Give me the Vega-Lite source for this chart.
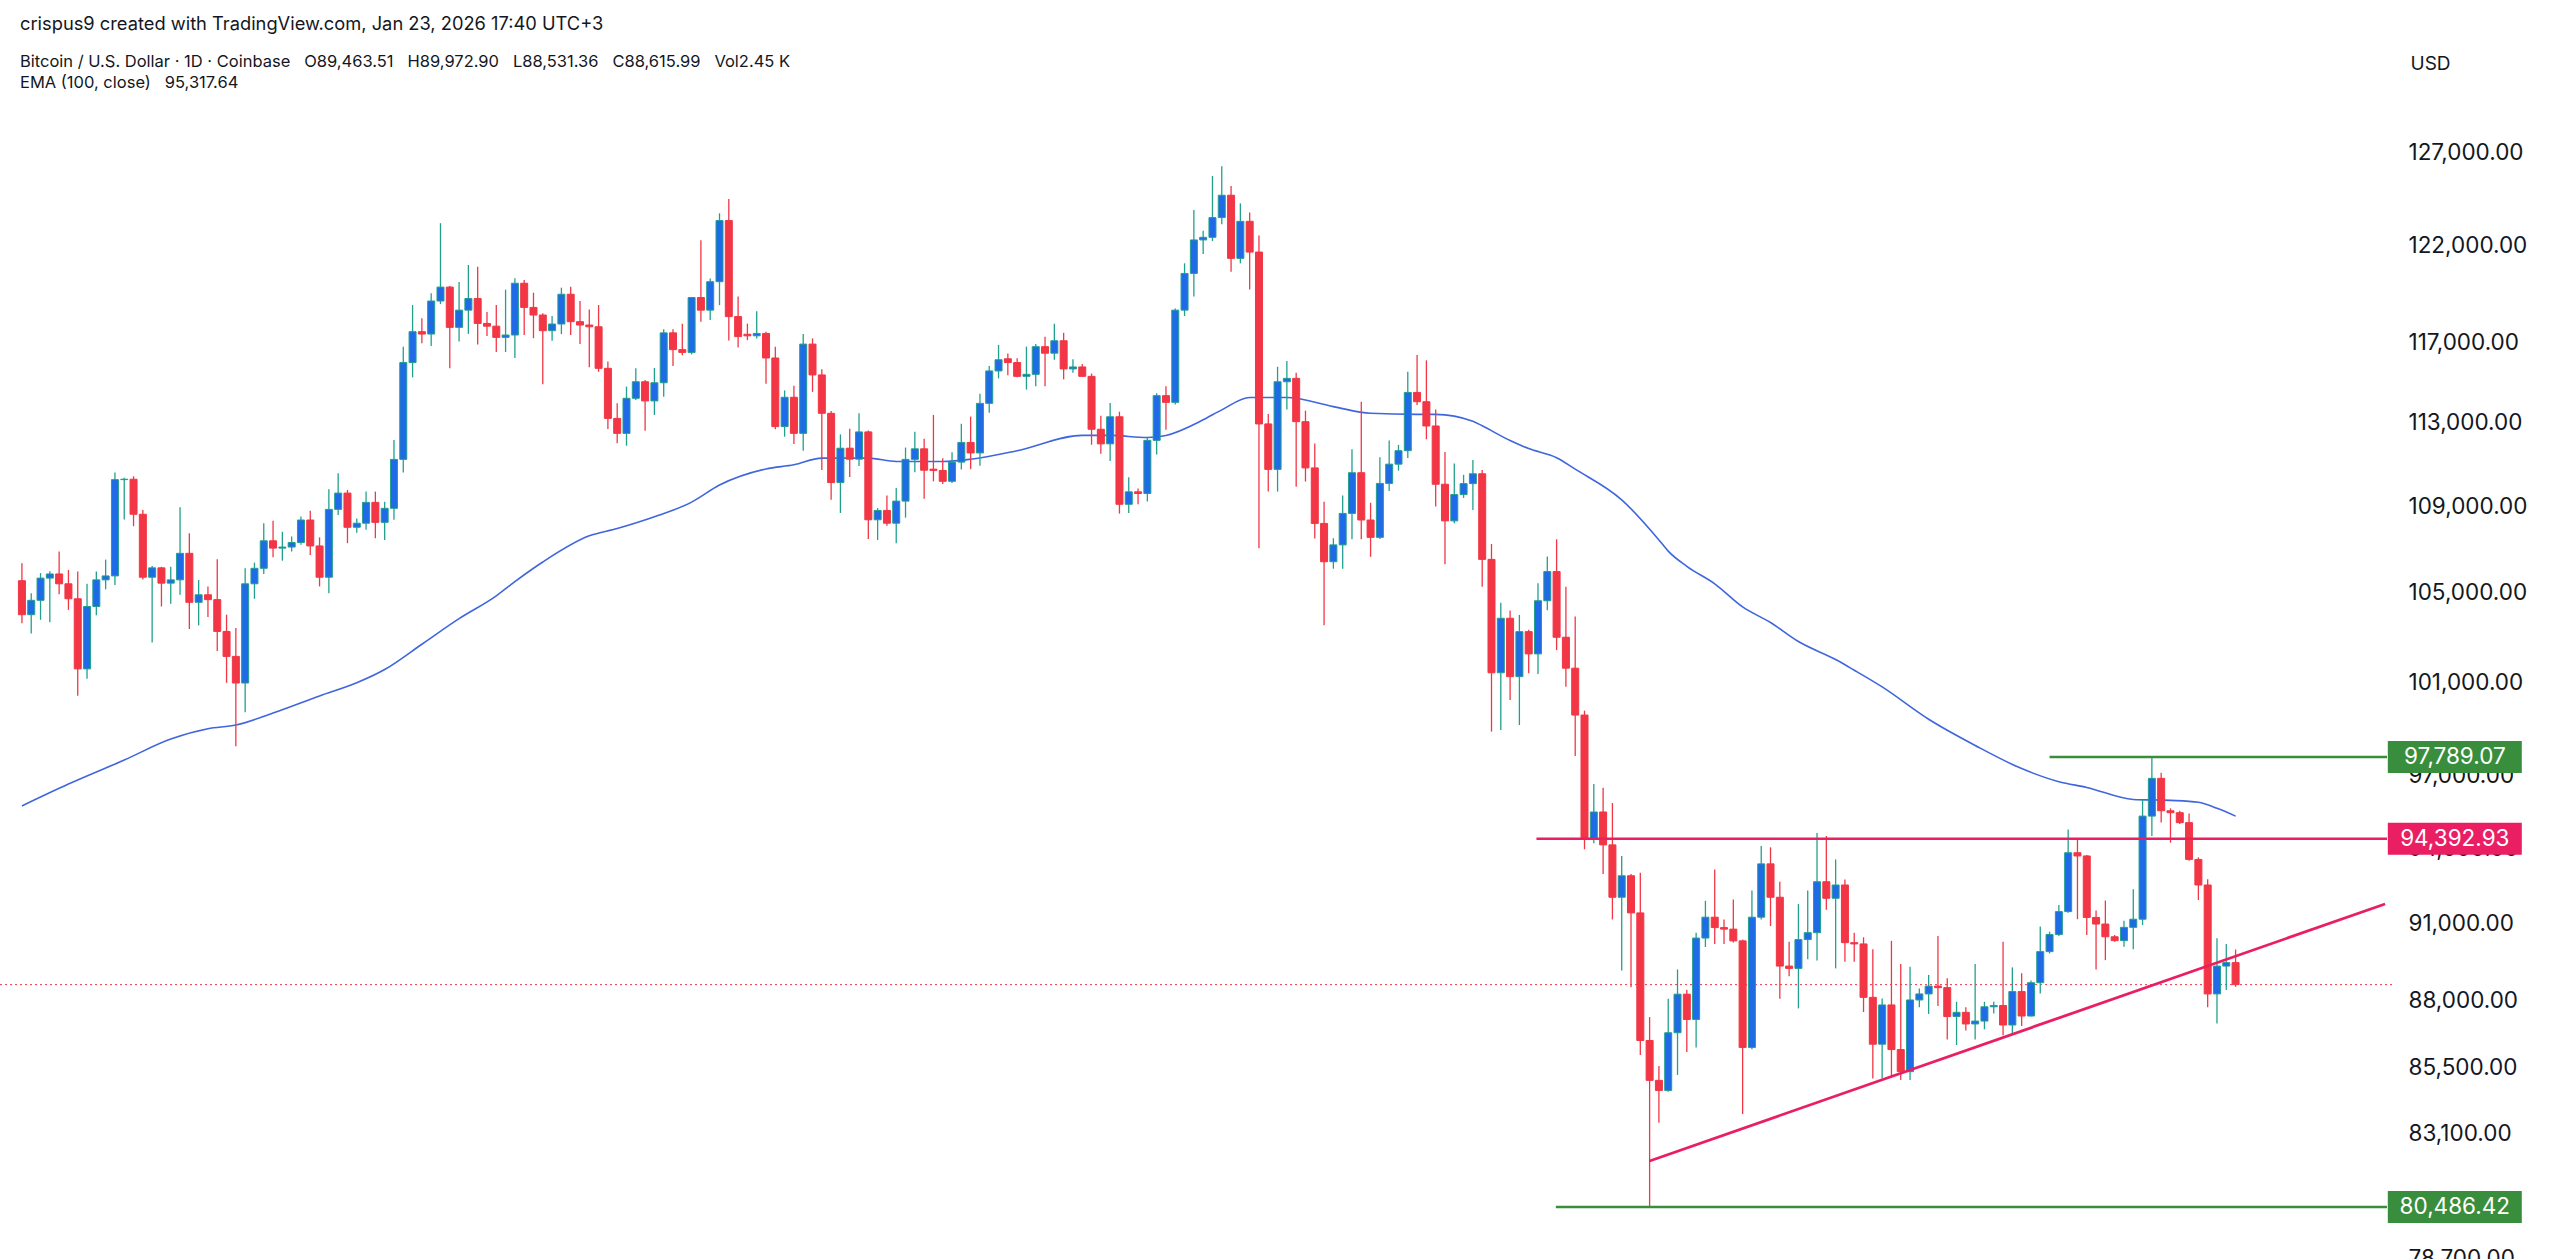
{
  "$schema": "https://vega.github.io/schema/vega-lite/v6.json",
  "width": 2392,
  "height": 1159,
  "autosize": {"type": "none"},
  "padding": {"top": 100, "left": 0, "right": 168, "bottom": 0},
  "background": "white",
  "config": {
    "font": "Inter",
    "view": {"stroke": null},
    "axisY": {
      "domain": false, "ticks": false, "grid": false,
      "labelFontSize": 22.5, "labelColor": "#131722", "labelPadding": 16,
      "labelOverlap": false, "labelBound": false, "labelAlign": "left", "labelBaseline": "middle",
      "titleAngle": 0, "titleX": 18, "titleY": -37, "titleAlign": "left", "titleBaseline": "middle",
      "titleFontSize": 19, "titleFontWeight": "normal", "titleColor": "#131722"
    }
  },
  "title": {
    "text": "crispus9 created with TradingView.com, Jan 23, 2026 17:40 UTC+3",
    "subtitle": ["Bitcoin / U.S. Dollar · 1D · Coinbase\u00a0\u00a0 O89,463.51\u00a0\u00a0 H89,972.90\u00a0\u00a0 L88,531.36\u00a0\u00a0 C88,615.99\u00a0\u00a0 Vol2.45 K", "EMA (100, close)\u00a0\u00a0 95,317.64"],
    "anchor": "start", "frame": "group", "dx": 20, "offset": -38,
    "fontSize": 18.3, "fontWeight": "normal", "color": "#131722",
    "subtitleFontSize": 16.5, "subtitleColor": "#131722", "subtitlePadding": 19, "subtitleLineHeight": 21
  },
  "datasets": {
    "ohlc": [
      {"d":"2025-05-30","o":105540,"h":106340,"l":103620,"c":104000},
      {"d":"2025-05-31","o":104000,"h":104970,"l":103160,"c":104650},
      {"d":"2025-06-01","o":104650,"h":105890,"l":103770,"c":105660},
      {"d":"2025-06-02","o":105660,"h":105970,"l":103660,"c":105850},
      {"d":"2025-06-03","o":105850,"h":106880,"l":104920,"c":105400},
      {"d":"2025-06-04","o":105400,"h":106030,"l":104220,"c":104720},
      {"d":"2025-06-05","o":104720,"h":105960,"l":100420,"c":101590},
      {"d":"2025-06-06","o":101590,"h":105400,"l":101160,"c":104370},
      {"d":"2025-06-07","o":104370,"h":105960,"l":103970,"c":105580},
      {"d":"2025-06-08","o":105580,"h":106510,"l":105150,"c":105760},
      {"d":"2025-06-09","o":105760,"h":110600,"l":105350,"c":110260},
      {"d":"2025-06-10","o":110260,"h":110350,"l":108370,"c":110280},
      {"d":"2025-06-11","o":110280,"h":110420,"l":108060,"c":108620},
      {"d":"2025-06-12","o":108620,"h":108820,"l":105600,"c":105700},
      {"d":"2025-06-13","o":105700,"h":106210,"l":102760,"c":106130},
      {"d":"2025-06-14","o":106130,"h":106180,"l":104370,"c":105430},
      {"d":"2025-06-15","o":105430,"h":106180,"l":104490,"c":105580},
      {"d":"2025-06-16","o":105580,"h":108950,"l":104900,"c":106800},
      {"d":"2025-06-17","o":106800,"h":107730,"l":103360,"c":104560},
      {"d":"2025-06-18","o":104560,"h":105570,"l":103520,"c":104900},
      {"d":"2025-06-19","o":104900,"h":105280,"l":103900,"c":104680},
      {"d":"2025-06-20","o":104680,"h":106530,"l":102380,"c":103250},
      {"d":"2025-06-21","o":103250,"h":104000,"l":100980,"c":102140},
      {"d":"2025-06-22","o":102140,"h":103400,"l":98240,"c":100970},
      {"d":"2025-06-23","o":100970,"h":106110,"l":99700,"c":105400},
      {"d":"2025-06-24","o":105400,"h":106370,"l":104720,"c":106110},
      {"d":"2025-06-25","o":106110,"h":108200,"l":105850,"c":107380},
      {"d":"2025-06-26","o":107380,"h":108310,"l":106620,"c":107040},
      {"d":"2025-06-27","o":107040,"h":107800,"l":106460,"c":107090},
      {"d":"2025-06-28","o":107090,"h":107580,"l":106880,"c":107300},
      {"d":"2025-06-29","o":107300,"h":108510,"l":107200,"c":108350},
      {"d":"2025-06-30","o":108350,"h":108790,"l":106720,"c":107140},
      {"d":"2025-07-01","o":107140,"h":107540,"l":105280,"c":105700},
      {"d":"2025-07-02","o":105700,"h":109800,"l":104970,"c":108850},
      {"d":"2025-07-03","o":108850,"h":110560,"l":108590,"c":109620},
      {"d":"2025-07-04","o":109620,"h":109770,"l":107270,"c":108010},
      {"d":"2025-07-05","o":108010,"h":108420,"l":107760,"c":108200},
      {"d":"2025-07-06","o":108200,"h":109690,"l":107890,"c":109180},
      {"d":"2025-07-07","o":109180,"h":109690,"l":107500,"c":108240},
      {"d":"2025-07-08","o":108240,"h":109210,"l":107420,"c":108900},
      {"d":"2025-07-09","o":108900,"h":112170,"l":108360,"c":111230},
      {"d":"2025-07-10","o":111230,"h":116780,"l":110600,"c":115990},
      {"d":"2025-07-11","o":115990,"h":118910,"l":115250,"c":117550},
      {"d":"2025-07-12","o":117550,"h":118230,"l":116960,"c":117430},
      {"d":"2025-07-13","o":117430,"h":119520,"l":116830,"c":119120},
      {"d":"2025-07-14","o":119120,"h":123200,"l":118960,"c":119840},
      {"d":"2025-07-15","o":119840,"h":119900,"l":115700,"c":117770},
      {"d":"2025-07-16","o":117770,"h":120100,"l":117050,"c":118650},
      {"d":"2025-07-17","o":118650,"h":120990,"l":117440,"c":119250},
      {"d":"2025-07-18","o":119250,"h":120900,"l":116900,"c":117970},
      {"d":"2025-07-19","o":117970,"h":118550,"l":117330,"c":117830},
      {"d":"2025-07-20","o":117830,"h":118910,"l":116520,"c":117260},
      {"d":"2025-07-21","o":117260,"h":119710,"l":116520,"c":117380},
      {"d":"2025-07-22","o":117380,"h":120300,"l":116220,"c":120040},
      {"d":"2025-07-23","o":120040,"h":120210,"l":117380,"c":118790},
      {"d":"2025-07-24","o":118790,"h":119550,"l":117220,"c":118400},
      {"d":"2025-07-25","o":118400,"h":118490,"l":114900,"c":117600},
      {"d":"2025-07-26","o":117600,"h":118350,"l":117090,"c":117940},
      {"d":"2025-07-27","o":117940,"h":119810,"l":117430,"c":119470},
      {"d":"2025-07-28","o":119470,"h":119860,"l":117380,"c":118060},
      {"d":"2025-07-29","o":118060,"h":119120,"l":116930,"c":117890},
      {"d":"2025-07-30","o":117890,"h":118690,"l":115750,"c":117800},
      {"d":"2025-07-31","o":117800,"h":118910,"l":115530,"c":115700},
      {"d":"2025-08-01","o":115700,"h":116040,"l":112700,"c":113220},
      {"d":"2025-08-02","o":113220,"h":113970,"l":112010,"c":112490},
      {"d":"2025-08-03","o":112490,"h":114790,"l":111890,"c":114210},
      {"d":"2025-08-04","o":114210,"h":115700,"l":114120,"c":115030},
      {"d":"2025-08-05","o":115030,"h":115120,"l":112620,"c":114080},
      {"d":"2025-08-06","o":114080,"h":115720,"l":113390,"c":114980},
      {"d":"2025-08-07","o":114980,"h":117670,"l":114290,"c":117490},
      {"d":"2025-08-08","o":117490,"h":117670,"l":115820,"c":116640},
      {"d":"2025-08-09","o":116640,"h":117950,"l":116360,"c":116500},
      {"d":"2025-08-10","o":116500,"h":119330,"l":116400,"c":119300},
      {"d":"2025-08-11","o":119300,"h":122300,"l":118050,"c":118650},
      {"d":"2025-08-12","o":118650,"h":120290,"l":118150,"c":120120},
      {"d":"2025-08-13","o":120120,"h":123730,"l":118910,"c":123340},
      {"d":"2025-08-14","o":123340,"h":124500,"l":117100,"c":118320},
      {"d":"2025-08-15","o":118320,"h":119350,"l":116750,"c":117300},
      {"d":"2025-08-16","o":117420,"h":117960,"l":117120,"c":117340},
      {"d":"2025-08-17","o":117340,"h":118590,"l":117200,"c":117460},
      {"d":"2025-08-18","o":117460,"h":117550,"l":114930,"c":116220},
      {"d":"2025-08-19","o":116220,"h":116790,"l":112690,"c":112820},
      {"d":"2025-08-20","o":112820,"h":114600,"l":112330,"c":114260},
      {"d":"2025-08-21","o":114260,"h":114830,"l":111970,"c":112490},
      {"d":"2025-08-22","o":112490,"h":117430,"l":111650,"c":116920},
      {"d":"2025-08-23","o":116920,"h":117210,"l":114530,"c":115370},
      {"d":"2025-08-24","o":115370,"h":115660,"l":110720,"c":113470},
      {"d":"2025-08-25","o":113470,"h":113580,"l":109300,"c":110120},
      {"d":"2025-08-26","o":110120,"h":112440,"l":108680,"c":111770},
      {"d":"2025-08-27","o":111770,"h":112720,"l":110380,"c":111240},
      {"d":"2025-08-28","o":111240,"h":113470,"l":110910,"c":112560},
      {"d":"2025-08-29","o":112560,"h":112630,"l":107460,"c":108360},
      {"d":"2025-08-30","o":108360,"h":108910,"l":107420,"c":108800},
      {"d":"2025-08-31","o":108800,"h":109510,"l":108080,"c":108200},
      {"d":"2025-09-01","o":108200,"h":109860,"l":107270,"c":109240},
      {"d":"2025-09-02","o":109240,"h":111800,"l":108460,"c":111230},
      {"d":"2025-09-03","o":111230,"h":112570,"l":110610,"c":111740},
      {"d":"2025-09-04","o":111740,"h":112230,"l":109350,"c":110710},
      {"d":"2025-09-05","o":110760,"h":113390,"l":110180,"c":110700},
      {"d":"2025-09-06","o":110700,"h":111280,"l":110050,"c":110180},
      {"d":"2025-09-07","o":110180,"h":111580,"l":110100,"c":111100},
      {"d":"2025-09-08","o":111100,"h":112960,"l":110740,"c":112050},
      {"d":"2025-09-09","o":112050,"h":113310,"l":110760,"c":111540},
      {"d":"2025-09-10","o":111540,"h":114430,"l":110920,"c":113960},
      {"d":"2025-09-11","o":113960,"h":115820,"l":113500,"c":115570},
      {"d":"2025-09-12","o":115570,"h":116880,"l":115200,"c":116130},
      {"d":"2025-09-13","o":116180,"h":116440,"l":115360,"c":115990},
      {"d":"2025-09-14","o":115990,"h":116200,"l":115250,"c":115300},
      {"d":"2025-09-15","o":115300,"h":116790,"l":114640,"c":115400},
      {"d":"2025-09-16","o":115400,"h":116920,"l":114810,"c":116790},
      {"d":"2025-09-17","o":116790,"h":117290,"l":114810,"c":116460},
      {"d":"2025-09-18","o":116460,"h":117960,"l":116130,"c":117090},
      {"d":"2025-09-19","o":117090,"h":117490,"l":115150,"c":115670},
      {"d":"2025-09-20","o":115670,"h":116150,"l":115480,"c":115770},
      {"d":"2025-09-21","o":115770,"h":115920,"l":115270,"c":115300},
      {"d":"2025-09-22","o":115300,"h":115440,"l":111940,"c":112690},
      {"d":"2025-09-23","o":112690,"h":113350,"l":111500,"c":111980},
      {"d":"2025-09-24","o":111980,"h":113980,"l":111150,"c":113300},
      {"d":"2025-09-25","o":113300,"h":113550,"l":108650,"c":109090},
      {"d":"2025-09-26","o":109090,"h":110370,"l":108680,"c":109680},
      {"d":"2025-09-27","o":109680,"h":109840,"l":109090,"c":109600},
      {"d":"2025-09-28","o":109600,"h":112320,"l":109220,"c":112150},
      {"d":"2025-09-29","o":112150,"h":114460,"l":111470,"c":114340},
      {"d":"2025-09-30","o":114340,"h":114810,"l":112660,"c":114010},
      {"d":"2025-10-01","o":114010,"h":118740,"l":113900,"c":118650},
      {"d":"2025-10-02","o":118650,"h":121080,"l":118350,"c":120550},
      {"d":"2025-10-03","o":120550,"h":123910,"l":119350,"c":122310},
      {"d":"2025-10-04","o":122310,"h":122800,"l":121570,"c":122450},
      {"d":"2025-10-05","o":122450,"h":125740,"l":122250,"c":123500},
      {"d":"2025-10-06","o":123500,"h":126280,"l":123150,"c":124700},
      {"d":"2025-10-07","o":124700,"h":125200,"l":120640,"c":121340},
      {"d":"2025-10-08","o":121340,"h":124260,"l":121080,"c":123300},
      {"d":"2025-10-09","o":123300,"h":123770,"l":119720,"c":121670},
      {"d":"2025-10-10","o":121670,"h":122540,"l":107030,"c":112950},
      {"d":"2025-10-11","o":112950,"h":113440,"l":109690,"c":110750},
      {"d":"2025-10-12","o":110750,"h":115780,"l":109690,"c":115030},
      {"d":"2025-10-13","o":115030,"h":116070,"l":113660,"c":115200},
      {"d":"2025-10-14","o":115200,"h":115480,"l":109920,"c":113060},
      {"d":"2025-10-15","o":113060,"h":113600,"l":110170,"c":110820},
      {"d":"2025-10-16","o":110820,"h":112000,"l":107490,"c":108190},
      {"d":"2025-10-17","o":108190,"h":109210,"l":103530,"c":106410},
      {"d":"2025-10-18","o":106410,"h":107500,"l":106090,"c":107190},
      {"d":"2025-10-19","o":107190,"h":109500,"l":106090,"c":108660},
      {"d":"2025-10-20","o":108660,"h":111720,"l":107450,"c":110590},
      {"d":"2025-10-21","o":110590,"h":114040,"l":107450,"c":108350},
      {"d":"2025-10-22","o":108350,"h":109160,"l":106640,"c":107540},
      {"d":"2025-10-23","o":107540,"h":111330,"l":107460,"c":110080},
      {"d":"2025-10-24","o":110080,"h":112140,"l":109720,"c":111000},
      {"d":"2025-10-25","o":111000,"h":111930,"l":110690,"c":111650},
      {"d":"2025-10-26","o":111650,"h":115530,"l":111300,"c":114500},
      {"d":"2025-10-27","o":114500,"h":116370,"l":113880,"c":114040},
      {"d":"2025-10-28","o":114040,"h":116100,"l":112200,"c":112850},
      {"d":"2025-10-29","o":112850,"h":113660,"l":108980,"c":110040},
      {"d":"2025-10-30","o":110040,"h":111590,"l":106300,"c":108310},
      {"d":"2025-10-31","o":108310,"h":111030,"l":108200,"c":109550},
      {"d":"2025-11-01","o":109550,"h":110490,"l":109390,"c":110070},
      {"d":"2025-11-02","o":110070,"h":111200,"l":108820,"c":110540},
      {"d":"2025-11-03","o":110540,"h":110720,"l":105270,"c":106520},
      {"d":"2025-11-04","o":106520,"h":107230,"l":98870,"c":101420},
      {"d":"2025-11-05","o":101420,"h":104540,"l":98940,"c":103840},
      {"d":"2025-11-06","o":103840,"h":104190,"l":100230,"c":101250},
      {"d":"2025-11-07","o":101250,"h":103990,"l":99150,"c":103240},
      {"d":"2025-11-08","o":103240,"h":103320,"l":101400,"c":102250},
      {"d":"2025-11-09","o":102250,"h":105420,"l":101370,"c":104630},
      {"d":"2025-11-10","o":104630,"h":106650,"l":104200,"c":105960},
      {"d":"2025-11-11","o":105960,"h":107450,"l":102420,"c":102990},
      {"d":"2025-11-12","o":102990,"h":105270,"l":100810,"c":101620},
      {"d":"2025-11-13","o":101620,"h":103920,"l":97830,"c":99580},
      {"d":"2025-11-14","o":99580,"h":99770,"l":93960,"c":94390},
      {"d":"2025-11-15","o":94390,"h":96650,"l":94210,"c":95490},
      {"d":"2025-11-16","o":95490,"h":96500,"l":92960,"c":94140},
      {"d":"2025-11-17","o":94140,"h":95860,"l":91150,"c":92030},
      {"d":"2025-11-18","o":92030,"h":93690,"l":89160,"c":92890},
      {"d":"2025-11-19","o":92890,"h":92960,"l":88520,"c":91410},
      {"d":"2025-11-20","o":91410,"h":93010,"l":85960,"c":86500},
      {"d":"2025-11-21","o":86500,"h":87380,"l":80486.42,"c":85020},
      {"d":"2025-11-22","o":85020,"h":85550,"l":83470,"c":84650},
      {"d":"2025-11-23","o":84650,"h":88080,"l":84600,"c":86790},
      {"d":"2025-11-24","o":86790,"h":89200,"l":85220,"c":88250},
      {"d":"2025-11-25","o":88250,"h":88420,"l":86070,"c":87290},
      {"d":"2025-11-26","o":87290,"h":90630,"l":86240,"c":90420},
      {"d":"2025-11-27","o":90420,"h":91890,"l":90070,"c":91240},
      {"d":"2025-11-28","o":91240,"h":93140,"l":90190,"c":90830},
      {"d":"2025-11-29","o":90830,"h":91150,"l":90190,"c":90770},
      {"d":"2025-11-30","o":90770,"h":91940,"l":90250,"c":90310},
      {"d":"2025-12-01","o":90310,"h":90360,"l":83790,"c":86240},
      {"d":"2025-12-02","o":86240,"h":92300,"l":86170,"c":91240},
      {"d":"2025-12-03","o":91240,"h":94090,"l":91150,"c":93370},
      {"d":"2025-12-04","o":93370,"h":94040,"l":90890,"c":92030},
      {"d":"2025-12-05","o":92030,"h":92650,"l":88080,"c":89330},
      {"d":"2025-12-06","o":89330,"h":90280,"l":88940,"c":89240},
      {"d":"2025-12-07","o":89240,"h":91760,"l":87710,"c":90360},
      {"d":"2025-12-08","o":90360,"h":92300,"l":89590,"c":90630},
      {"d":"2025-12-09","o":90630,"h":94630,"l":89550,"c":92650},
      {"d":"2025-12-10","o":92650,"h":94500,"l":91530,"c":91990},
      {"d":"2025-12-11","o":91990,"h":93550,"l":89240,"c":92520},
      {"d":"2025-12-12","o":92520,"h":92740,"l":89500,"c":90240},
      {"d":"2025-12-13","o":90240,"h":90630,"l":89500,"c":90190},
      {"d":"2025-12-14","o":90190,"h":90450,"l":87570,"c":88130},
      {"d":"2025-12-15","o":88130,"h":89980,"l":85090,"c":86360},
      {"d":"2025-12-16","o":86360,"h":88090,"l":85090,"c":87840},
      {"d":"2025-12-17","o":87840,"h":90310,"l":85150,"c":86160},
      {"d":"2025-12-18","o":86160,"h":89410,"l":85030,"c":85340},
      {"d":"2025-12-19","o":85340,"h":89300,"l":85030,"c":88030},
      {"d":"2025-12-20","o":88030,"h":88470,"l":87750,"c":88260},
      {"d":"2025-12-21","o":88260,"h":88990,"l":87500,"c":88560},
      {"d":"2025-12-22","o":88560,"h":90500,"l":87800,"c":88500},
      {"d":"2025-12-23","o":88500,"h":88860,"l":86540,"c":87400},
      {"d":"2025-12-24","o":87400,"h":87960,"l":86330,"c":87560},
      {"d":"2025-12-25","o":87560,"h":87750,"l":86870,"c":87120},
      {"d":"2025-12-26","o":87120,"h":89410,"l":86540,"c":87230},
      {"d":"2025-12-27","o":87230,"h":87960,"l":86920,"c":87770},
      {"d":"2025-12-28","o":87770,"h":87960,"l":87520,"c":87820},
      {"d":"2025-12-29","o":87820,"h":90280,"l":86700,"c":87080},
      {"d":"2025-12-30","o":87080,"h":89280,"l":86740,"c":88350},
      {"d":"2025-12-31","o":88350,"h":89050,"l":87040,"c":87420},
      {"d":"2026-01-01","o":87420,"h":88770,"l":87400,"c":88690},
      {"d":"2026-01-02","o":88690,"h":90870,"l":88280,"c":89890},
      {"d":"2026-01-03","o":89890,"h":90670,"l":89820,"c":90560},
      {"d":"2026-01-04","o":90560,"h":91720,"l":90500,"c":91460},
      {"d":"2026-01-05","o":91460,"h":94770,"l":91420,"c":93820},
      {"d":"2026-01-06","o":93820,"h":94340,"l":91160,"c":93690},
      {"d":"2026-01-07","o":93690,"h":93730,"l":90540,"c":91230},
      {"d":"2026-01-08","o":91230,"h":91500,"l":89200,"c":90970},
      {"d":"2026-01-09","o":90970,"h":91900,"l":89560,"c":90470},
      {"d":"2026-01-10","o":90470,"h":90540,"l":90280,"c":90320},
      {"d":"2026-01-11","o":90320,"h":91100,"l":90080,"c":90840},
      {"d":"2026-01-12","o":90840,"h":92350,"l":89980,"c":91160},
      {"d":"2026-01-13","o":91160,"h":96010,"l":90930,"c":95320},
      {"d":"2026-01-14","o":95320,"h":97789.07,"l":94500,"c":96890},
      {"d":"2026-01-15","o":96890,"h":97130,"l":95060,"c":95540},
      {"d":"2026-01-16","o":95540,"h":95640,"l":94230,"c":95460},
      {"d":"2026-01-17","o":95460,"h":95540,"l":94990,"c":95050},
      {"d":"2026-01-18","o":95050,"h":95430,"l":93500,"c":93550},
      {"d":"2026-01-19","o":93550,"h":93630,"l":91920,"c":92520},
      {"d":"2026-01-20","o":92520,"h":92750,"l":87750,"c":88260},
      {"d":"2026-01-21","o":88260,"h":90410,"l":87140,"c":89330},
      {"d":"2026-01-22","o":89330,"h":90190,"l":88410,"c":89463.51},
      {"d":"2026-01-23","o":89463.51,"h":89972.90,"l":88531.36,"c":88615.99}
    ],
    "ema": [
      {"d":"2025-05-30","v":95740},{"d":"2025-06-04","v":96650},{"d":"2025-06-10","v":97660},
      {"d":"2025-06-15","v":98550},{"d":"2025-06-19","v":98990},{"d":"2025-06-22","v":99150},
      {"d":"2025-06-26","v":99670},{"d":"2025-07-01","v":100410},{"d":"2025-07-05","v":100980},
      {"d":"2025-07-08","v":101560},{"d":"2025-07-12","v":102680},{"d":"2025-07-16","v":103820},
      {"d":"2025-07-20","v":104850},{"d":"2025-07-22","v":105500},{"d":"2025-07-25","v":106400},
      {"d":"2025-07-30","v":107610},{"d":"2025-08-02","v":107950},{"d":"2025-08-06","v":108500},
      {"d":"2025-08-10","v":109190},{"d":"2025-08-13","v":110000},{"d":"2025-08-18","v":110770},
      {"d":"2025-08-21","v":110970},{"d":"2025-08-24","v":111290},{"d":"2025-08-29","v":111290},
      {"d":"2025-09-01","v":111130},{"d":"2025-09-06","v":111130},{"d":"2025-09-09","v":111240},
      {"d":"2025-09-14","v":111650},{"d":"2025-09-21","v":112390},{"d":"2025-09-24","v":112390},
      {"d":"2025-09-28","v":112290},{"d":"2025-09-30","v":112390},{"d":"2025-10-04","v":113150},
      {"d":"2025-10-06","v":113640},{"d":"2025-10-09","v":114250},{"d":"2025-10-13","v":114250},
      {"d":"2025-10-18","v":113800},{"d":"2025-10-22","v":113470},{"d":"2025-10-27","v":113420},
      {"d":"2025-10-29","v":113420},{"d":"2025-11-02","v":113080},{"d":"2025-11-03","v":112860},
      {"d":"2025-11-06","v":112140},{"d":"2025-11-08","v":111750},{"d":"2025-11-11","v":111310},
      {"d":"2025-11-13","v":110760},{"d":"2025-11-18","v":109300},{"d":"2025-11-22","v":107420},
      {"d":"2025-11-23","v":106900},{"d":"2025-11-25","v":106200},{"d":"2025-11-28","v":105400},
      {"d":"2025-12-01","v":104350},{"d":"2025-12-04","v":103650},{"d":"2025-12-07","v":102800},
      {"d":"2025-12-11","v":102000},{"d":"2025-12-13","v":101530},{"d":"2025-12-16","v":100800},
      {"d":"2025-12-21","v":99400},{"d":"2025-12-26","v":98280},{"d":"2025-12-31","v":97300},
      {"d":"2026-01-04","v":96750},{"d":"2026-01-07","v":96510},{"d":"2026-01-12","v":96010},
      {"d":"2026-01-16","v":95970},{"d":"2026-01-19","v":95890},{"d":"2026-01-21","v":95640},
      {"d":"2026-01-23","v":95317.64}
    ],
    "levels": [
      {"kind":"high","p":97789.07,"from":"2026-01-03T00:00:00Z","to":"2026-02-08T06:43:00Z","tag":"97,789.07"},
      {"kind":"resistance","p":94392.93,"from":"2025-11-08T20:00:00Z","to":"2026-02-08T06:43:00Z","tag":"94,392.93"},
      {"kind":"low","p":80486.42,"from":"2025-11-10T22:00:00Z","to":"2026-02-08T06:43:00Z","tag":"80,486.42"}
    ],
    "trend": [
      {"d":"2025-11-21T00:00:00Z","p":82105},
      {"d":"2026-02-08T01:40:00Z","p":91763}
    ]
  },
  "layer": [
    {
      "data": {"values": [{}]},
      "mark": {"type": "rule", "color": "#F23645", "strokeDash": [2, 3], "strokeWidth": 1},
      "encoding": {
        "y": {"datum": 88615.99, "type": "quantitative",
              "scale": {"type": "log", "domain": [78695, 129946], "nice": false, "zero": false},
              "axis": {"orient": "right", "format": ",.2f", "values": [78700, 83100, 85500, 88000, 91000, 94000, 97000, 101000, 105000, 109000, 113000, 117000, 122000, 127000]},
              "title": "USD"}
      }
    },
    {
      "data": {"name": "ema"},
      "mark": {"type": "line", "color": "#3f66de", "strokeWidth": 1.6, "interpolate": "monotone"},
      "encoding": {
        "x": {"field": "d", "type": "temporal", "axis": null,
              "scale": {"type": "utc", "domain": [{"year": 2025, "month": 5, "date": 28, "hours": 4, "minutes": 19, "utc": true}, {"year": 2026, "month": 2, "date": 8, "hours": 6, "minutes": 43, "utc": true}]}},
        "y": {"field": "v", "type": "quantitative",
              "scale": {"type": "log", "domain": [78695, 129946], "nice": false, "zero": false},
              "axis": {"orient": "right", "format": ",.2f", "values": [78700, 83100, 85500, 88000, 91000, 94000, 97000, 101000, 105000, 109000, 113000, 117000, 122000, 127000]},
              "title": "USD"}
      }
    },
    {
      "data": {"name": "ohlc"},
      "mark": {"type": "rule", "strokeWidth": 1.3},
      "encoding": {
        "x": {"field": "d", "type": "temporal", "axis": null,
              "scale": {"type": "utc", "domain": [{"year": 2025, "month": 5, "date": 28, "hours": 4, "minutes": 19, "utc": true}, {"year": 2026, "month": 2, "date": 8, "hours": 6, "minutes": 43, "utc": true}]}},
        "y": {"field": "l", "type": "quantitative",
              "scale": {"type": "log", "domain": [78695, 129946], "nice": false, "zero": false},
              "axis": {"orient": "right", "format": ",.2f", "values": [78700, 83100, 85500, 88000, 91000, 94000, 97000, 101000, 105000, 109000, 113000, 117000, 122000, 127000]},
              "title": "USD"},
        "y2": {"field": "h"},
        "color": {"condition": {"test": "datum.c >= datum.o", "value": "#22a08e"}, "value": "#F23645"}
      }
    },
    {
      "data": {"name": "ohlc"},
      "mark": {"type": "bar", "width": 7, "strokeWidth": 1},
      "encoding": {
        "x": {"field": "d", "type": "temporal", "axis": null,
              "scale": {"type": "utc", "domain": [{"year": 2025, "month": 5, "date": 28, "hours": 4, "minutes": 19, "utc": true}, {"year": 2026, "month": 2, "date": 8, "hours": 6, "minutes": 43, "utc": true}]}},
        "y": {"field": "o", "type": "quantitative",
              "scale": {"type": "log", "domain": [78695, 129946], "nice": false, "zero": false},
              "axis": {"orient": "right", "format": ",.2f", "values": [78700, 83100, 85500, 88000, 91000, 94000, 97000, 101000, 105000, 109000, 113000, 117000, 122000, 127000]},
              "title": "USD"},
        "y2": {"field": "c"},
        "fill": {"condition": {"test": "datum.c >= datum.o", "value": "#1f6ae6"}, "value": "#F23645"},
        "stroke": {"condition": {"test": "datum.c >= datum.o", "value": "#22a08e"}, "value": "#F23645"}
      }
    },
    {
      "data": {"name": "levels"},
      "mark": {"type": "rule", "strokeWidth": 2.6},
      "encoding": {
        "x": {"field": "from", "type": "temporal", "axis": null,
              "scale": {"type": "utc", "domain": [{"year": 2025, "month": 5, "date": 28, "hours": 4, "minutes": 19, "utc": true}, {"year": 2026, "month": 2, "date": 8, "hours": 6, "minutes": 43, "utc": true}]}},
        "x2": {"field": "to"},
        "y": {"field": "p", "type": "quantitative",
              "scale": {"type": "log", "domain": [78695, 129946], "nice": false, "zero": false},
              "axis": {"orient": "right", "format": ",.2f", "values": [78700, 83100, 85500, 88000, 91000, 94000, 97000, 101000, 105000, 109000, 113000, 117000, 122000, 127000]},
              "title": "USD"},
        "color": {"field": "kind", "type": "nominal", "legend": null,
                  "scale": {"domain": ["high", "resistance", "low"], "range": ["#388E3C", "#E91E63", "#388E3C"]}}
      }
    },
    {
      "data": {"name": "trend"},
      "mark": {"type": "line", "color": "#E91E63", "strokeWidth": 2.8},
      "encoding": {
        "x": {"field": "d", "type": "temporal", "axis": null,
              "scale": {"type": "utc", "domain": [{"year": 2025, "month": 5, "date": 28, "hours": 4, "minutes": 19, "utc": true}, {"year": 2026, "month": 2, "date": 8, "hours": 6, "minutes": 43, "utc": true}]}},
        "y": {"field": "p", "type": "quantitative",
              "scale": {"type": "log", "domain": [78695, 129946], "nice": false, "zero": false},
              "axis": {"orient": "right", "format": ",.2f", "values": [78700, 83100, 85500, 88000, 91000, 94000, 97000, 101000, 105000, 109000, 113000, 117000, 122000, 127000]},
              "title": "USD"}
      }
    },
    {
      "data": {"name": "levels"},
      "mark": {"type": "point", "filled": true, "opacity": 1, "shape": "M-1,-0.2388H1V0.2388H-1Z", "size": 17956, "strokeWidth": 0},
      "encoding": {
        "x": {"datum": {"year": 2026, "month": 2, "date": 15, "hours": 13, "minutes": 40, "utc": true}, "type": "temporal", "axis": null,
              "scale": {"type": "utc", "domain": [{"year": 2025, "month": 5, "date": 28, "hours": 4, "minutes": 19, "utc": true}, {"year": 2026, "month": 2, "date": 8, "hours": 6, "minutes": 43, "utc": true}]}},
        "y": {"field": "p", "type": "quantitative",
              "scale": {"type": "log", "domain": [78695, 129946], "nice": false, "zero": false},
              "axis": {"orient": "right", "format": ",.2f", "values": [78700, 83100, 85500, 88000, 91000, 94000, 97000, 101000, 105000, 109000, 113000, 117000, 122000, 127000]},
              "title": "USD"},
        "color": {"field": "kind", "type": "nominal", "legend": null,
                  "scale": {"domain": ["high", "resistance", "low"], "range": ["#388E3C", "#E91E63", "#388E3C"]}}
      }
    },
    {
      "data": {"name": "levels"},
      "mark": {"type": "text", "color": "white", "fontSize": 22.5, "align": "center", "baseline": "middle"},
      "encoding": {
        "x": {"datum": {"year": 2026, "month": 2, "date": 15, "hours": 13, "minutes": 40, "utc": true}, "type": "temporal", "axis": null,
              "scale": {"type": "utc", "domain": [{"year": 2025, "month": 5, "date": 28, "hours": 4, "minutes": 19, "utc": true}, {"year": 2026, "month": 2, "date": 8, "hours": 6, "minutes": 43, "utc": true}]}},
        "y": {"field": "p", "type": "quantitative",
              "scale": {"type": "log", "domain": [78695, 129946], "nice": false, "zero": false},
              "axis": {"orient": "right", "format": ",.2f", "values": [78700, 83100, 85500, 88000, 91000, 94000, 97000, 101000, 105000, 109000, 113000, 117000, 122000, 127000]},
              "title": "USD"},
        "text": {"field": "tag"}
      }
    }
  ]
}
